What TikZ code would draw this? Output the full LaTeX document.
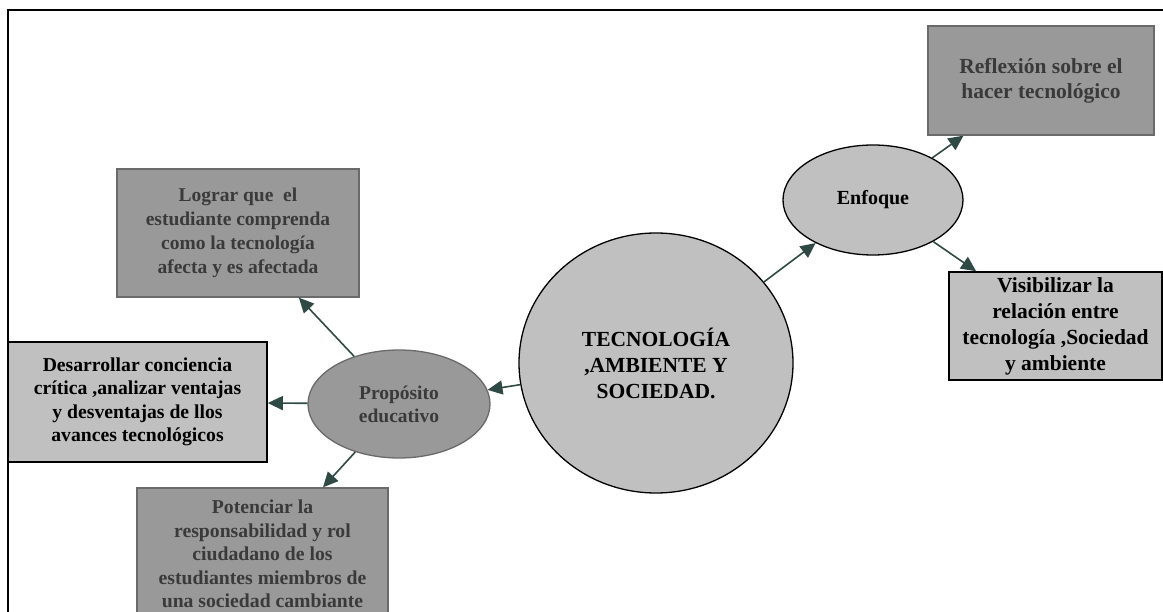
\documentclass[tikz,border=0pt]{standalone}
\usepackage{fontspec}
\setmainfont{Liberation Serif}
\usetikzlibrary{arrows.meta,shapes.geometric}
\definecolor{darkfill}{HTML}{999999}
\definecolor{lightfill}{HTML}{C0C0C0}
\definecolor{softtext}{HTML}{3A3A3A}
\definecolor{softedge}{HTML}{6A6A6A}
\definecolor{linkcol}{HTML}{2F4A45}
\tikzset{
  darkbox/.style={rectangle, draw=softedge, line width=1.3pt, fill=darkfill,
    text=softtext, align=center, inner sep=0pt, font=\bfseries},
  lightbox/.style={rectangle, draw=black, line width=1.6pt, fill=lightfill,
    text=black, align=center, inner sep=0pt, font=\bfseries},
  link/.style={draw=linkcol, line width=1.6pt,
    -{Triangle[length=15pt,width=14pt]}, shorten >=0pt},
}
\newcommand{\fsz}[2]{\fontsize{#1}{#2}\selectfont}
\begin{document}
\begin{tikzpicture}[x=1pt,y=-1pt]
\clip (0,0) rectangle (1163,612);
\fill[white] (0,0) rectangle (1163,612);
% page frame
\draw[line width=1.2pt] (8,612) -- (8,10) -- (1163,10);

% central topic
\node[ellipse, draw=black, line width=1.3pt, fill=lightfill, minimum width=274pt,
  minimum height=260pt, inner sep=0pt, align=center, font=\bfseries\fsz{21.5}{26}]
  (core) at (656,363) {TECNOLOGÍA\\,AMBIENTE Y\\SOCIEDAD.};

% branch ellipses
\node[ellipse, draw=softedge, line width=1.3pt, fill=darkfill, text=softtext,
  minimum width=182pt, minimum height=108pt, inner sep=0pt, align=center,
  font=\bfseries\fsz{19.5}{23}] (prop) at (399,404) {Propósito\\educativo};
\node[ellipse, draw=black, line width=1.3pt, fill=lightfill,
  minimum width=180pt, minimum height=110pt, inner sep=0pt, align=center,
  font=\bfseries\fsz{20}{24}] (enf) at (873,200) {Enfoque};

% boxes of the left branch
\node[darkbox, minimum width=242pt, minimum height=128pt, font=\bfseries\fsz{19.5}{24}]
  (lograr) at (238,233) {Lograr que\ \ el\\estudiante comprenda\\como la tecnología\\afecta y es afectada};
\node[lightbox, minimum width=259pt, minimum height=120pt, font=\bfseries\fsz{19.7}{23.5}]
  (desa) at (137.5,402) {Desarrollar conciencia\\crítica ,analizar ventajas\\y desventajas de llos\\avances tecnológicos};
\node[darkbox, minimum width=251pt, minimum height=132pt, font=\bfseries\fsz{19.7}{23.5}]
  (pot) at (262.5,554) {Potenciar la\\responsabilidad y rol\\ciudadano de los\\estudiantes miembros de\\una sociedad cambiante};

% boxes of the right branch
\node[darkbox, minimum width=226pt, minimum height=109pt, font=\bfseries\fsz{21.5}{25}]
  (refl) at (1041,80.5) {Reflexión sobre el\\hacer tecnológico};
\node[lightbox, minimum width=213pt, minimum height=108pt, font=\bfseries\fsz{21.5}{26}]
  (visi) at (1055.5,326) {Visibilizar la\\relación entre\\tecnología ,Sociedad\\y ambiente};

% connectors
\draw[link] (core) -- (prop);
\draw[link] (prop) -- (lograr);
\draw[link] (prop) -- (desa);
\draw[link] (prop) -- (pot);
\draw[link] (core) -- (enf);
\draw[link] (enf) -- (refl);
\draw[link] (enf) -- (visi);
\end{tikzpicture}
\end{document}
